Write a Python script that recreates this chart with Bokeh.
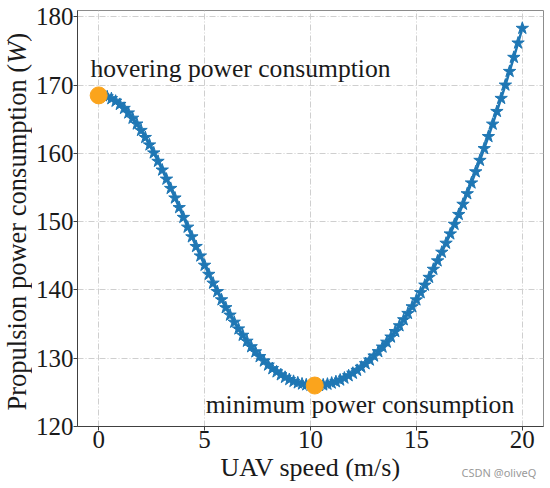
import math
from bokeh.plotting import figure
from bokeh.layouts import row, column
from bokeh.models import Range1d, FixedTicker, Label
from bokeh.embed import file_html
from bokeh.resources import INLINE

# ---- data ----
speed = [0.0, 0.2, 0.4, 0.6, 0.8, 1.0, 1.2, 1.4, 1.6, 1.8,
         2.0, 2.2, 2.4, 2.6, 2.8, 3.0, 3.2, 3.4, 3.6, 3.8,
         4.0, 4.2, 4.4, 4.6, 4.8, 5.0, 5.2, 5.4, 5.6, 5.8,
         6.0, 6.2, 6.4, 6.6, 6.8, 7.0, 7.2, 7.4, 7.6, 7.8,
         8.0, 8.2, 8.4, 8.6, 8.8, 9.0, 9.2, 9.4, 9.6, 9.8,
         10.0, 10.2, 10.4, 10.6, 10.8, 11.0, 11.2, 11.4, 11.6, 11.8,
         12.0, 12.2, 12.4, 12.6, 12.8, 13.0, 13.2, 13.4, 13.6, 13.8,
         14.0, 14.2, 14.4, 14.6, 14.8, 15.0, 15.2, 15.4, 15.6, 15.8,
         16.0, 16.2, 16.4, 16.6, 16.8, 17.0, 17.2, 17.4, 17.6, 17.8,
         18.0, 18.2, 18.4, 18.6, 18.8, 19.0, 19.2, 19.4, 19.6, 19.8,
         20.0]
power = [168.48, 168.43, 168.27, 168.00, 167.63, 167.16, 166.58, 165.91, 165.14, 164.29,
         163.35, 162.32, 161.23, 160.06, 158.83, 157.55, 156.22, 154.86, 153.46, 152.05,
         150.62, 149.19, 147.77, 146.36, 144.97, 143.61, 142.28, 140.99, 139.75, 138.55,
         137.40, 136.31, 135.27, 134.29, 133.36, 132.49, 131.68, 130.93, 130.23, 129.59,
         129.00, 128.47, 128.00, 127.57, 127.20, 126.88, 126.61, 126.39, 126.23, 126.10,
         126.03, 126.00, 126.02, 126.09, 126.20, 126.36, 126.56, 126.80, 127.09, 127.43,
         127.80, 128.22, 128.68, 129.19, 129.73, 130.32, 130.96, 131.63, 132.35, 133.10,
         133.91, 134.75, 135.63, 136.56, 137.53, 138.54, 139.60, 140.70, 141.84, 143.02,
         144.25, 145.52, 146.84, 148.20, 149.60, 151.05, 152.54, 154.08, 155.66, 157.29,
         158.97, 160.69, 162.45, 164.27, 166.13, 168.04, 169.99, 171.99, 174.05, 176.15,
         178.30]
key_speed = [0.0, 10.2]
key_power = [168.48, 126.00]
key_labels = ["hovering power consumption", "minimum power consumption"]
x_ticks = [0, 5, 10, 15, 20]
y_ticks = [120, 130, 140, 150, 160, 170, 180]
x_label = "UAV speed (m/s)"
y_label_parts = ["Propulsion power consumption (", "W", ")"]
watermark = "CSDN @oliveQ"

SERIF = "Liberation Serif"
TXT = "#1a1a1a"
W_TOTAL = 550
TOP, BOTTOM = 10, 32          # main plot borders
H_MAIN = 426 + BOTTOM         # frame bottom at y=426
OVERLAP = 6                   # bottom strip slides up under the tick labels' empty space
H_STRIP = 488 - H_MAIN + OVERLAP
STRIP_TOP = H_MAIN - OVERLAP
LEFT_W = 32
PX_PER_UNIT = (426 - TOP) / (180.91 - 120)

y_range = Range1d(120, 180.91)

def bare(fig):
    fig.outline_line_color = None
    fig.grid.visible = False
    return fig

# ---- main plot ----
p = figure(width=W_TOTAL - LEFT_W, height=H_MAIN, output_backend="svg", toolbar_location=None,
           x_range=Range1d(-1, 21), y_range=y_range,
           min_border_left=77 - LEFT_W, min_border_right=7,
           min_border_top=TOP, min_border_bottom=BOTTOM,
           background_fill_color="white", border_fill_color="white")

p.outline_line_color = "#8c8c8c"
p.outline_line_width = 1

for ax, ticks in ((p.xaxis, x_ticks), (p.yaxis, y_ticks)):
    ax.ticker = FixedTicker(ticks=ticks)
    ax.major_label_text_font = SERIF
    ax.major_label_text_font_size = "25px"
    ax.major_label_text_color = TXT
    ax.major_tick_in = 0
    ax.major_tick_out = 4
    ax.minor_tick_in = 0
    ax.minor_tick_out = 0
    ax.axis_line_color = "#404040"
    ax.major_tick_line_color = "#404040"
    ax.major_label_standoff = 0

p.grid.grid_line_color = "#cfcfcf"
p.grid.grid_line_dash = "6 2 1 2"
p.grid.grid_line_width = 1

p.line(speed, power, color="#1f77b4", line_width=2.5)
p.scatter(speed, power, marker="star", size=13, color="#1f77b4")
p.scatter(key_speed, key_power, marker="circle", size=17, color="#fba41c")

# text placed by the middle of its em box (baseline + 0.34 em)
AFS = 25.6
mid = 0.34 * AFS / PX_PER_UNIT
p.add_layout(Label(x=-0.385, y=171.08 + mid, text=key_labels[0], text_font=SERIF,
                   text_font_size=f"{AFS}px", text_color=TXT, text_align="left",
                   text_baseline="middle"))
p.add_layout(Label(x=5.05, y=121.96 + mid, text=key_labels[1], text_font=SERIF,
                   text_font_size=f"{AFS}px", text_color=TXT, text_align="left",
                   text_baseline="middle"))

# ---- left strip holding the y-axis title (italic W) ----
pl = bare(figure(width=LEFT_W, height=H_MAIN, output_backend="svg", toolbar_location=None,
                 x_range=Range1d(0, LEFT_W), y_range=y_range,
                 x_axis_location=None, y_axis_location=None,
                 min_border_left=0, min_border_right=0,
                 min_border_top=TOP, min_border_bottom=BOTTOM,
                 background_fill_color="white", border_fill_color="white"))

fs = 26.5
y0 = 122.34
w1 = 13.083 * fs / PX_PER_UNIT
w2 = 0.833 * fs / PX_PER_UNIT
starts = [y0, y0 + w1, y0 + w1 + w2]
styles = ["normal", "italic", "normal"]
for txt, ys, st in zip(y_label_parts, starts, styles):
    pl.add_layout(Label(x=16.8, y=ys, text=txt, text_font=SERIF,
                        text_font_size=f"{fs}px", text_font_style=st, text_color=TXT,
                        angle=math.pi / 2, text_align="left", text_baseline="middle"))

# ---- bottom strip holding the x-axis title and the watermark ----
pb = bare(figure(width=W_TOTAL, height=H_STRIP, output_backend="svg", toolbar_location=None,
                 x_range=Range1d(0, W_TOTAL), y_range=Range1d(0, H_STRIP),
                 x_axis_location=None, y_axis_location=None,
                 min_border_left=0, min_border_right=0, min_border_top=0, min_border_bottom=0,
                 background_fill_color=None, border_fill_color=None,
                 styles={"margin-top": f"-{OVERLAP}px"}))
pb.add_layout(Label(x=310, y=H_STRIP - (475.5 - 0.34 * 26 - STRIP_TOP), text=x_label,
                    text_font=SERIF, text_font_size="26px", text_color=TXT,
                    text_align="center", text_baseline="middle"))
pb.add_layout(Label(x=461, y=H_STRIP - (476 - 0.38 * 11 - STRIP_TOP), text=watermark,
                    text_font="Noto Sans", text_font_size="11px", text_color="#9a9a9a",
                    text_align="left", text_baseline="middle"))

layout = column(row(pl, p), pb)
open("out.html", "w").write(file_html(layout, INLINE))
